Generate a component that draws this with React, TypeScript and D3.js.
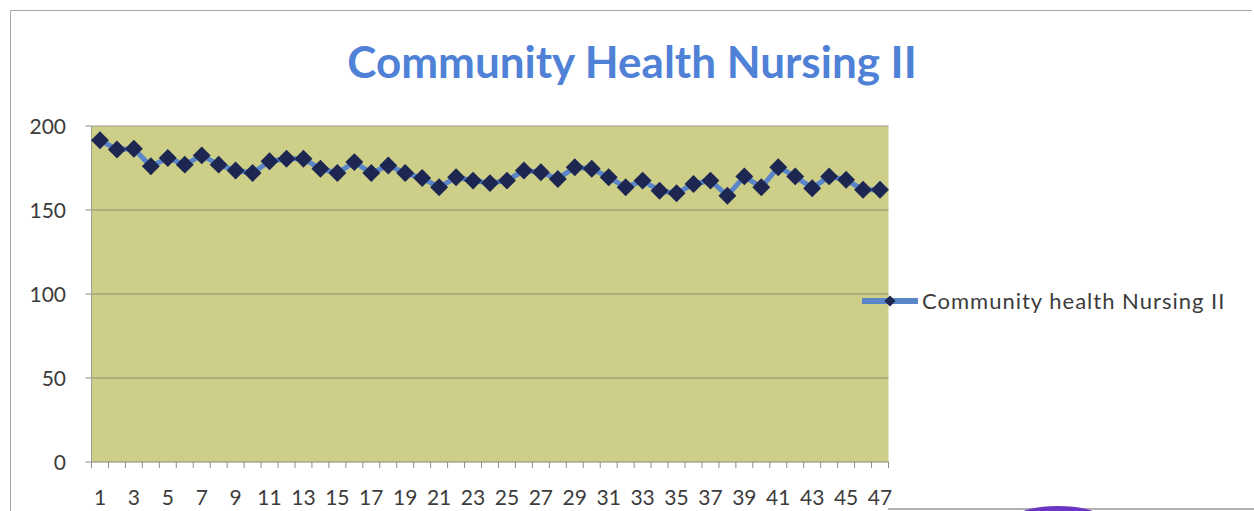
import React from "react";
import * as d3 from "d3";

const title = "Community Health Nursing II";
const seriesName = "Community health Nursing II";
const categories = d3.range(1, 48).map(String);
const values = [
  191.5, 186, 186.5, 176, 181, 177, 182.5, 177, 173.5, 172,
  179, 180.5, 180.5, 174.5, 172, 178.5, 172, 176.5, 172, 169,
  163.5, 169.5, 167.5, 166, 167.5, 173.5, 172.5, 168.5, 175.5, 174.5,
  169.5, 163.5, 167.5, 161.5, 160, 165.5, 167.5, 158.5, 170, 163.5,
  175.5, 170, 163, 170, 168, 162, 162,
];
const yTicks = [0, 50, 100, 150, 200];

const W = 1254;
const H = 511;
const plot = { left: 91.5, right: 888.5, top: 126, bottom: 462 };

export default function App() {
  const x = d3.scaleBand<string>().domain(categories).range([plot.left, plot.right]).padding(0);
  const y = d3.scaleLinear().domain([0, 200]).range([plot.bottom, plot.top]);
  const cx = (c: string) => (x(c) ?? 0) + x.bandwidth() / 2;
  const line = d3
    .line<number>()
    .x((_, i) => cx(categories[i]))
    .y((v) => y(v));
  const diamond = d3.symbol().type(d3.symbolDiamond2).size(205)();
  const font = "Lato, 'Open Sans', sans-serif";
  const boundaries = d3.range(categories.length + 1).map((i) => plot.left + i * x.bandwidth());

  return (
    <svg
      width={W}
      height={H}
      style={{ position: "absolute", left: 0, top: 0, background: "#fff" }}
      fontFamily={font}
    >
      <rect x={0} y={0} width={W} height={H} fill="#ffffff" />
      {/* outer frame */}
      <line x1={10.5} y1={10.5} x2={1252} y2={10.5} stroke="#a8a8a8" strokeWidth={1} />
      <line x1={10.5} y1={10.5} x2={10.5} y2={H} stroke="#a8a8a8" strokeWidth={1} />
      <line x1={888} y1={509} x2={W} y2={509} stroke="#b0b0b0" strokeWidth={2} />
      <ellipse cx={1058} cy={516} rx={40} ry={10} fill="#6b35c4" />

      <text x={632} y={78} textAnchor="middle" fontSize={44} fontWeight={700} fill="#4f81d6">
        {title}
      </text>

      {/* plot area */}
      <rect
        x={plot.left}
        y={y(200)}
        width={plot.right - plot.left}
        height={y(0) - y(200)}
        fill="#cdcf88"
      />
      {yTicks.map((t) => (
        <g key={t}>
          {t > 0 && (
            <line
              x1={plot.left}
              x2={plot.right}
              y1={y(t)}
              y2={y(t)}
              stroke={t === 200 ? "#9e9e8a" : "#8c8c6c"}
              strokeWidth={1.2}
            />
          )}
          <line x1={plot.left - 6} x2={plot.left} y1={y(t)} y2={y(t)} stroke="#8c8c80" />
          <text
            x={66}
            y={y(t)}
            dy="0.36em"
            textAnchor="end"
            fontSize={21}
            fill="#3c3c3c"
          >
            {t}
          </text>
        </g>
      ))}
      {/* axes */}
      <line x1={plot.left} x2={plot.left} y1={y(200)} y2={y(0)} stroke="#a0a090" />
      <line x1={plot.left} x2={plot.right} y1={y(0)} y2={y(0)} stroke="#8c8c80" strokeWidth={1.2} />
      {boundaries.map((bx, i) => (
        <line key={i} x1={bx} x2={bx} y1={y(0)} y2={y(0) + 6} stroke="#8c8c80" />
      ))}
      {categories.map((c, i) =>
        i % 2 === 0 ? (
          <text key={c} x={cx(c)} y={505} textAnchor="middle" fontSize={21} fill="#3c3c3c">
            {c}
          </text>
        ) : null
      )}

      {/* series */}
      <path d={line(values) ?? ""} fill="none" stroke="#5a85c8" strokeWidth={5} strokeLinejoin="round" />
      {values.map((v, i) => (
        <path key={i} d={diamond ?? ""} transform={`translate(${cx(categories[i])},${y(v)})`} fill="#1c2650" />
      ))}

      {/* legend */}
      <line x1={862} x2={918} y1={301} y2={301} stroke="#5a85c8" strokeWidth={6} />
      <path d={d3.symbol().type(d3.symbolDiamond2).size(80)() ?? ""} transform="translate(890,301)" fill="#1c2650" />
      <text x={922} y={301} dy="0.36em" fontSize={22} letterSpacing={1} fill="#3c3c3c">
        {seriesName}
      </text>
    </svg>
  );
}
